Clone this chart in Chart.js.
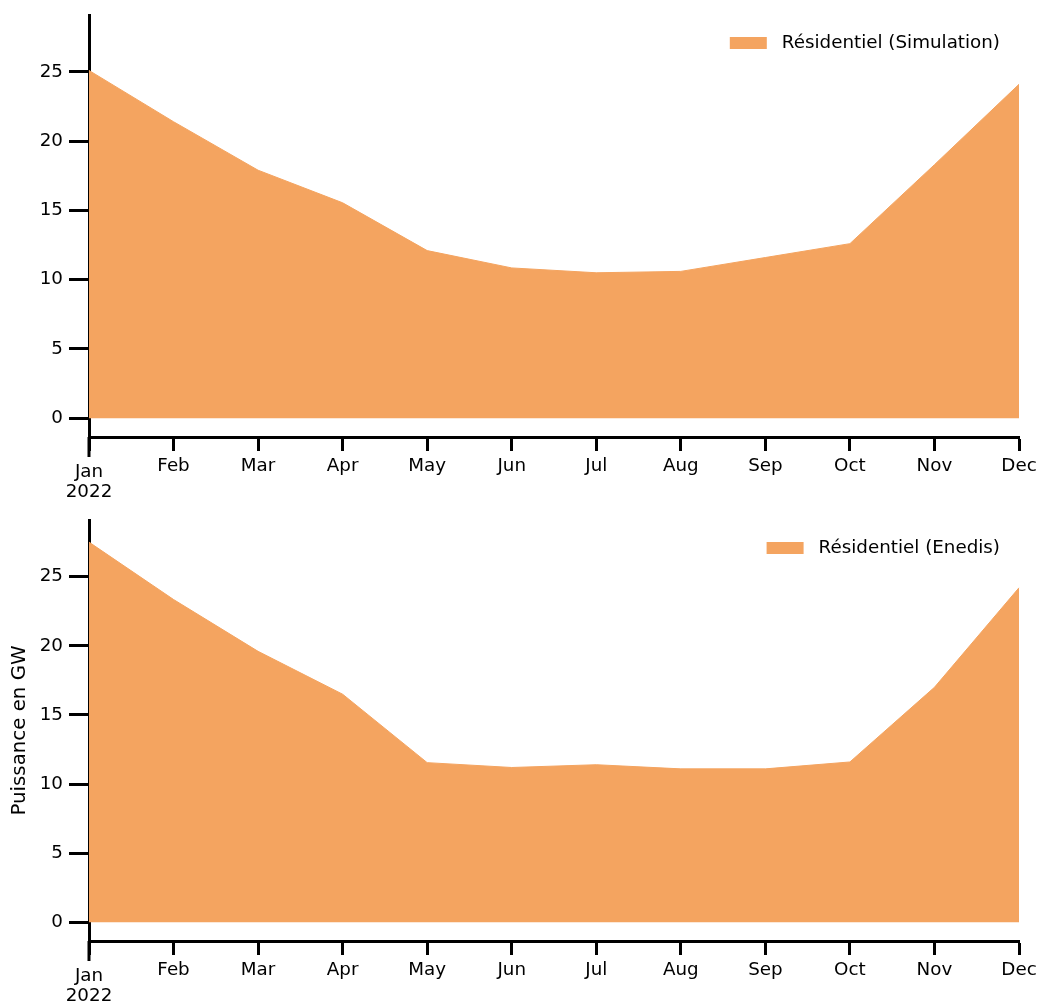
<!DOCTYPE html>
<html>
<head>
<meta charset="utf-8">
<script src="https://cdn.jsdelivr.net/npm/chart.js@4/dist/chart.umd.min.js"></script>
<style>
  html, body { margin: 0; padding: 0; background: #fff; }
  #page { position: relative; width: 1037px; height: 1005px; }
  .panel { position: absolute; left: 0; width: 1037px; }
  #top { top: 0; height: 505px; }
  #bottom { top: 505px; height: 500px; }
</style>
</head>
<body>
<div id="page">
  <div class="panel" id="top"><canvas id="chartTop"></canvas></div>
  <div class="panel" id="bottom"><canvas id="chartBottom"></canvas></div>
</div>
<script>
// data (GW, monthly)
const months = ["Jan", "Feb", "Mar", "Apr", "May", "Jun", "Jul", "Aug", "Sep", "Oct", "Nov", "Dec"];
const yearLabel = "2022";
const simulation = [25.1, 21.4, 17.9, 15.55, 12.1, 10.85, 10.5, 10.6, 11.6, 12.6, 18.3, 24.1];
const enedis = [27.5, 23.35, 19.6, 16.5, 11.55, 11.2, 11.4, 11.1, 11.1, 11.6, 17.0, 24.2];
const yTicks = [0, 5, 10, 15, 20, 25];

const fillColor = "#F4A460";
const ink = "#000";
const fontSize = 18.3;

Chart.defaults.font.family = "'DejaVu Sans', sans-serif";
Chart.defaults.font.size = fontSize;
Chart.defaults.color = ink;

// Jan tick is the major one: longer, with the year under it
const yearMarker = {
    id: "yearMarker",
    afterDraw: function(chart) {
        const xScale = chart.scales.x;
        const px = xScale.getPixelForValue(0);
        const ctx = chart.ctx;
        ctx.save();
        ctx.strokeStyle = ink;
        ctx.lineWidth = 3;
        ctx.beginPath();
        ctx.moveTo(px, xScale.top);
        ctx.lineTo(px, xScale.top + 20);
        ctx.stroke();
        ctx.fillStyle = ink;
        ctx.font = fontSize + "px 'DejaVu Sans'";
        ctx.textAlign = "center";
        ctx.textBaseline = "middle";
        ctx.fillText(months[0], px, xScale.top + 35);
        ctx.fillText(yearLabel, px, xScale.top + 55);
        ctx.restore();
    }
};

// legend inside the axes, top right, like matplotlib's
const innerLegend = {
    id: "innerLegend",
    afterDraw: function(chart) {
        const area = chart.chartArea;
        const ds = chart.data.datasets[0];
        const ctx = chart.ctx;
        const textRight = area.right - 19;
        const cy = area.top + 28;
        ctx.save();
        ctx.font = fontSize + "px 'DejaVu Sans'";
        ctx.textAlign = "right";
        ctx.textBaseline = "middle";
        ctx.fillStyle = ink;
        ctx.fillText(ds.label, textRight, cy);
        const textLeft = textRight - ctx.measureText(ds.label).width;
        ctx.fillStyle = ds.backgroundColor;
        ctx.fillRect(textLeft - 15 - 37, cy - 6, 37, 12);
        ctx.restore();
    }
};

function makeChart(canvasId, label, values, xHeight, yTitle) {
    return new Chart(document.getElementById(canvasId), {
        type: "line",
        data: {
            labels: months,
            datasets: [{
                label: label,
                data: values,
                fill: "origin",
                backgroundColor: fillColor,
                borderColor: fillColor,
                borderWidth: 1,
                pointRadius: 0,
                tension: 0
            }]
        },
        options: {
            responsive: true,
            maintainAspectRatio: false,
            animation: false,
            layout: {
                padding: { left: 0, top: 15, right: 18, bottom: 0 }
            },
            plugins: {
                tooltip: { enabled: false },
                legend: { display: false }
            },
            scales: {
                x: {
                    type: "category",
                    offset: false,
                    grid: {
                        drawOnChartArea: false,
                        drawTicks: true,
                        tickLength: 14,
                        tickWidth: 3,
                        tickColor: ink
                    },
                    border: { display: true, color: ink, width: 3 },
                    ticks: {
                        autoSkip: false,
                        maxRotation: 0,
                        padding: 4,
                        color: ink,
                        callback: function(value, index) {
                            return index === 0 ? "" : months[index];
                        }
                    },
                    afterFit: function(scale) {
                        scale.height = xHeight;
                        scale.paddingLeft = 0;
                        scale.paddingRight = 0;
                    }
                },
                y: {
                    min: -1.35,
                    max: 29.1,
                    afterBuildTicks: function(axis) {
                        axis.ticks = yTicks.map(function(v) { return { value: v }; });
                    },
                    grid: {
                        drawOnChartArea: false,
                        drawTicks: true,
                        tickLength: 20,
                        tickWidth: 3,
                        tickColor: ink
                    },
                    border: { display: true, color: ink, width: 3 },
                    ticks: { padding: 6, color: ink },
                    title: {
                        display: !!yTitle,
                        text: yTitle || "",
                        color: ink,
                        font: { size: 19.8 },
                        padding: { top: 8, bottom: 0 }
                    },
                    afterFit: function(scale) {
                        scale.width = 89;
                        scale.paddingTop = 0;
                        scale.paddingBottom = 0;
                    }
                }
            }
        },
        plugins: [yearMarker, innerLegend]
    });
}

makeChart("chartTop", "Résidentiel (Simulation)", simulation, 68, null);
makeChart("chartBottom", "Résidentiel (Enedis)", enedis, 64, "Puissance en GW");
</script>
</body>
</html>
